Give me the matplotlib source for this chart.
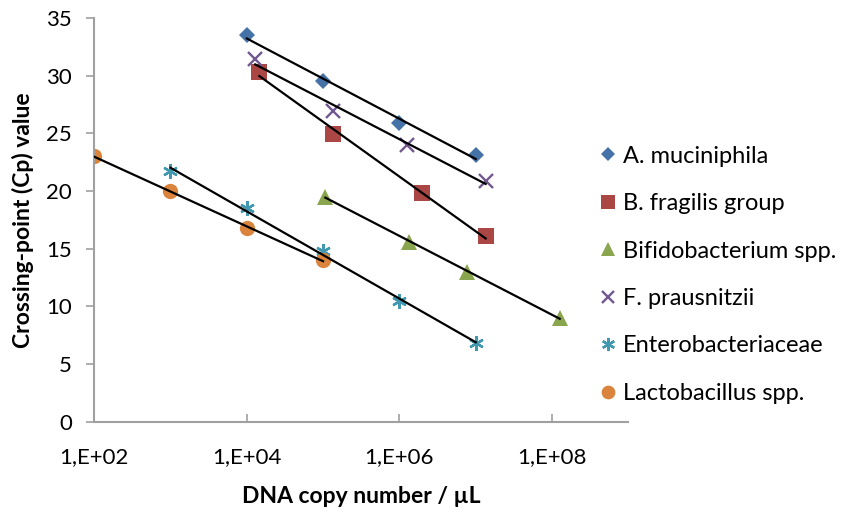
import numpy as np
import matplotlib
matplotlib.use("Agg")
import matplotlib.pyplot as plt
from matplotlib.ticker import FixedLocator, FixedFormatter, NullLocator

plt.rcParams['font.family'] = ['Lato', 'DejaVu Sans']

# data (x = DNA copies / uL, y = Cp)
names = ["A. muciniphila", "B. fragilis group", "Bifidobacterium spp.",
         "F. prausnitzii", "Enterobacteriaceae", "Lactobacillus spp."]
x_akk = [1.0e4, 1.0e5, 1.0e6, 1.0e7]
y_akk = [33.5, 29.5, 25.9, 23.1]
x_bfr = [1.46e4, 1.36e5, 1.95e6, 1.35e7]
y_bfr = [30.3, 24.9, 19.8, 16.1]
x_bif = [1.07e5, 1.35e6, 7.8e6, 1.26e8]
y_bif = [19.5, 15.6, 13.0, 9.0]
x_fpr = [1.29e4, 1.35e5, 1.27e6, 1.35e7]
y_fpr = [31.4, 26.9, 24.0, 20.9]
x_ent = [1.0e3, 1.0e4, 1.0e5, 1.0e6, 1.0e7]
y_ent = [21.7, 18.5, 14.8, 10.5, 6.8]
x_lac = [1.0e2, 1.0e3, 1.0e4, 1.0e5]
y_lac = [23.0, 20.0, 16.8, 14.0]

xs = [x_akk, x_bfr, x_bif, x_fpr, x_ent, x_lac]
ys = [y_akk, y_bfr, y_bif, y_fpr, y_ent, y_lac]
colors = ["#4572A7", "#AA4643", "#89A54E", "#71588F", "#4198AF", "#DB843D"]
markers = ["D", "s", "^", "x", (6, 2, 0), "o"]
msizes = [8, 11, 11, 10, 10.5, 11]

xticks = [1e2, 1e4, 1e6, 1e8]
xticklabels = ["1,E+02", "1,E+04", "1,E+06", "1,E+08"]

fig = plt.figure(figsize=(8.48, 5.12), dpi=100)
ax = fig.add_axes([0.111, 0.176, 0.63, 0.789])

handles = []
for i in range(len(names)):
    x = np.array(xs[i])
    y = np.array(ys[i])
    # logarithmic trendline like excel
    k, b = np.polyfit(np.log10(x), y, 1)
    xe = np.array([x.min(), x.max()])
    ax.plot(xe, k * np.log10(xe) + b, color="black", lw=1.6, zorder=3)
    lw = 1.7 if markers[i] in ("x", (6, 2, 0)) else 0
    h, = ax.plot(x, y, linestyle="none", marker=markers[i], ms=msizes[i],
                 color=colors[i], mew=lw, zorder=2)
    handles.append(h)

ax.set_xscale("log")
ax.set_xlim(1e2, 1e9)
ax.set_ylim(0, 35)
ax.xaxis.set_major_locator(FixedLocator(xticks))
ax.xaxis.set_major_formatter(FixedFormatter(xticklabels))
ax.xaxis.set_minor_locator(NullLocator())
ax.set_yticks(np.arange(0, 36, 5))

for s in ["top", "right"]:
    ax.spines[s].set_visible(False)
for s in ["left", "bottom"]:
    ax.spines[s].set_color("#A0A0A0")
    ax.spines[s].set_linewidth(1.5)
ax.tick_params(axis="y", direction="out", length=6, color="#A0A0A0", width=1.2,
               labelsize=16, pad=10)
ax.tick_params(axis="x", direction="in", length=6, color="#A0A0A0", width=1.2,
               labelsize=16, pad=18)

ax.set_xlabel("DNA copy number / µL", fontsize=16.5, fontweight="bold", labelpad=14)
ax.set_ylabel("Crossing-point (Cp) value", fontsize=16.5, fontweight="bold", labelpad=9)

fig.legend(handles, names, loc="upper left", bbox_to_anchor=(0.681, 0.757),
           frameon=False, fontsize=17, labelspacing=1.12, handletextpad=0.24,
           handlelength=0.8, markerscale=0.9)

fig.savefig("out.png", dpi=100)
